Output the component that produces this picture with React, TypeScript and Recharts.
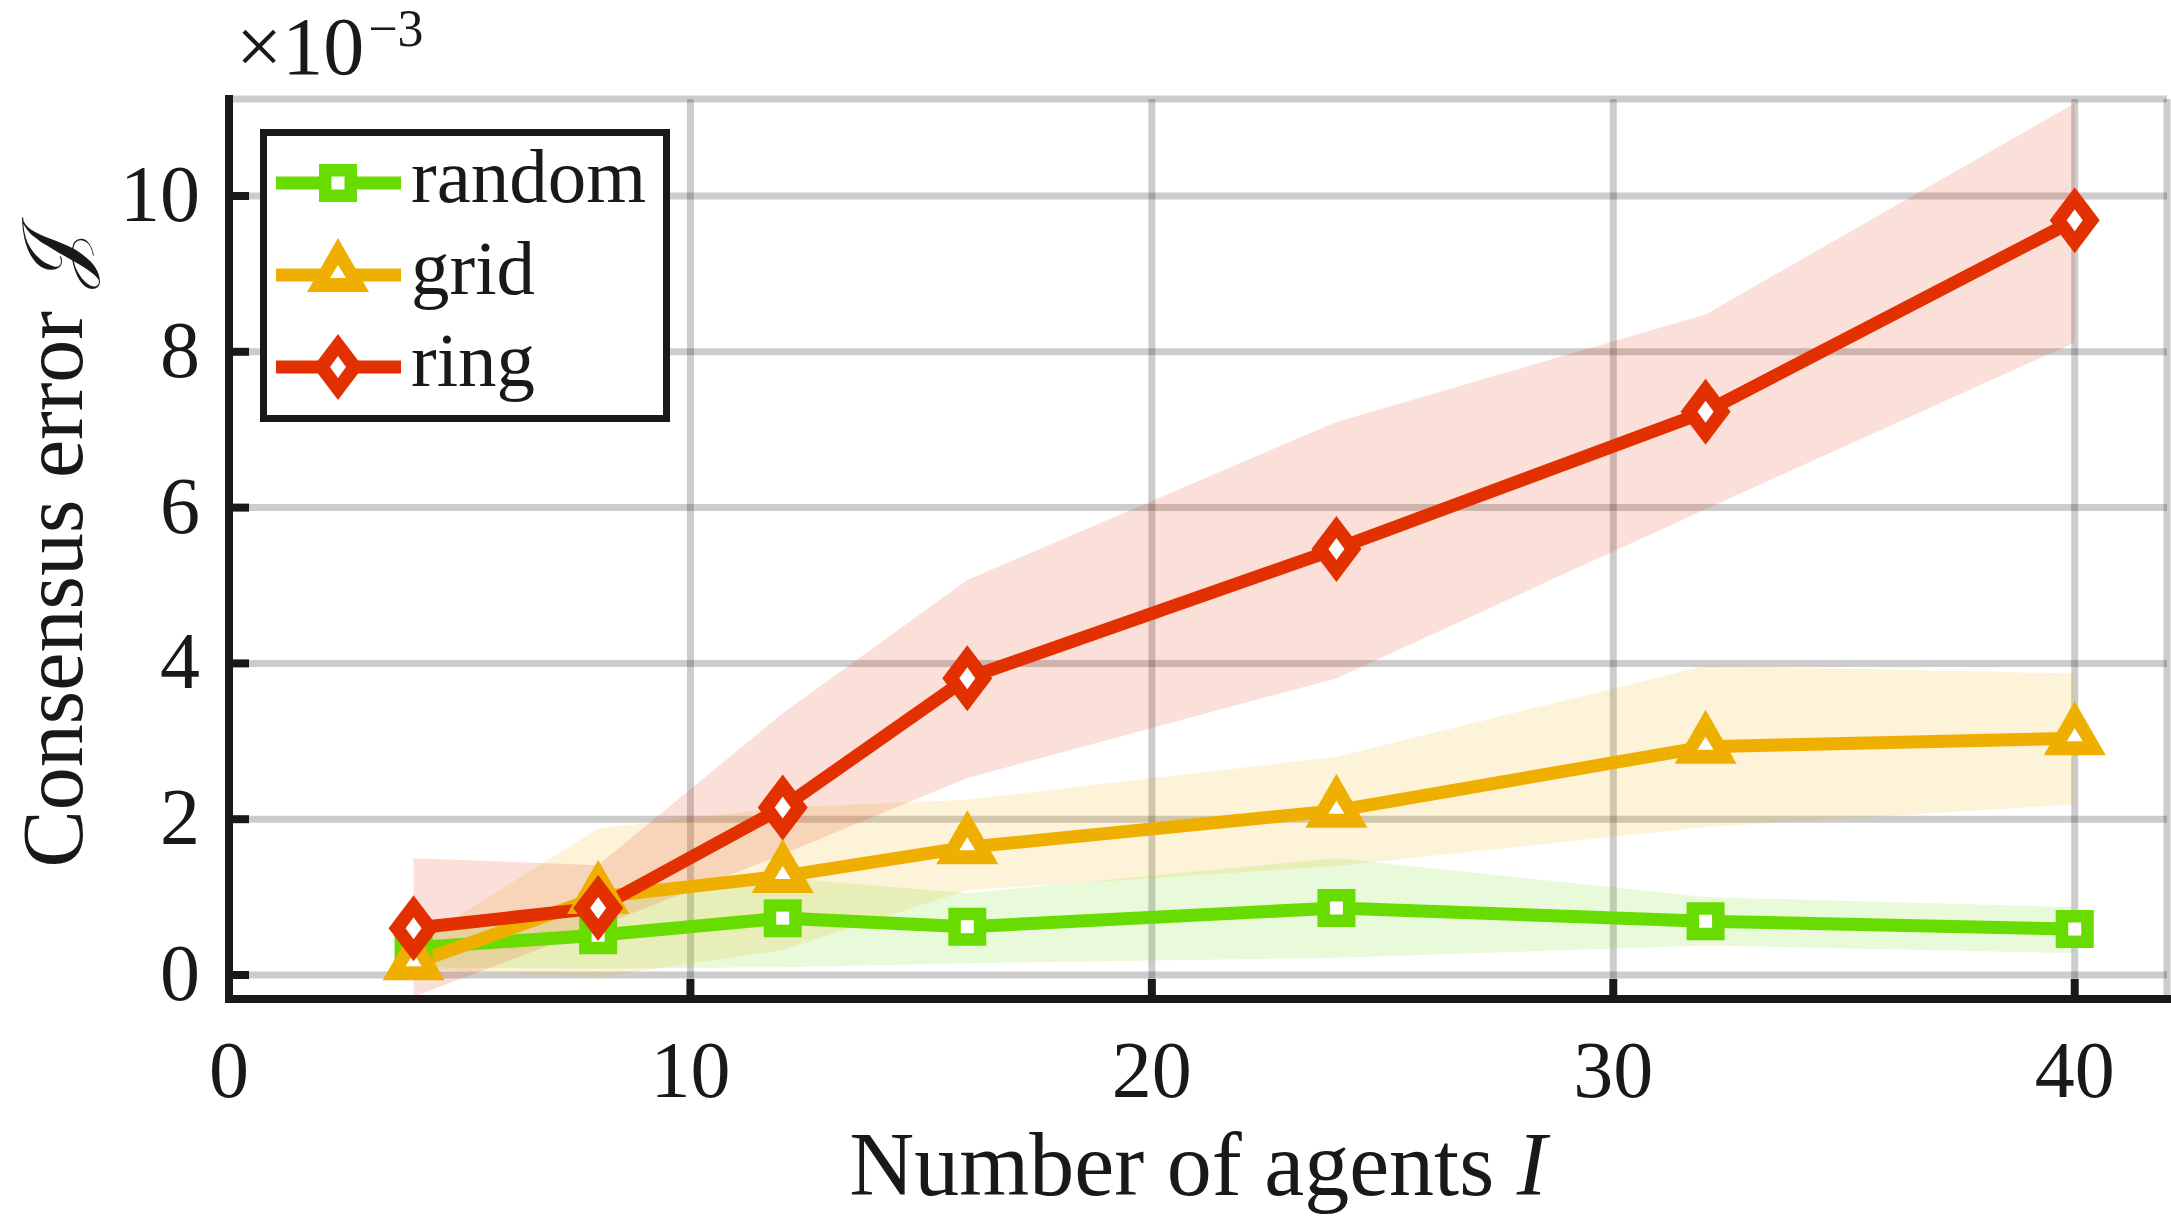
import React from 'react';
import { ComposedChart, Line, Area, XAxis, YAxis, CartesianGrid, Legend } from 'recharts';

// consensus error (x 1e-3) against the number of agents, per topology
const agents = [4, 8, 12, 16, 24, 32, 40];

const randomMean = [0.35, 0.51, 0.73, 0.62, 0.86, 0.69, 0.59];
const randomLow = [0.1, 0.08, 0.1, 0.15, 0.22, 0.38, 0.28];
const randomHigh = [0.55, 0.95, 1.25, 1.05, 1.5, 1.0, 0.87];

const gridMean = [0.15, 1.0, 1.27, 1.64, 2.11, 2.93, 3.04];
const gridLow = [0.08, -0.03, 0.32, 1.09, 1.4, 1.9, 2.19];
const gridHigh = [0.4, 1.88, 2.15, 2.25, 2.8, 3.97, 3.87];

const ringMean = [0.6, 0.86, 2.15, 3.81, 5.47, 7.23, 9.69];
const ringLow = [-0.28, 0.62, 1.55, 2.53, 3.81, 5.98, 8.12];
const ringHigh = [1.5, 1.41, 3.36, 5.07, 7.1, 8.48, 11.19];

const xTicks = [0, 10, 20, 30, 40];
const yTicks = [0, 2, 4, 6, 8, 10];

const FONT = '"Liberation Serif", "DejaVu Serif", serif';
const INK = '#181918';

type Shape = 'square' | 'triangle' | 'diamond';

const series: { key: string; name: string; color: string; shape: Shape }[] = [
  { key: 'random', name: 'random', color: '#68DC00', shape: 'square' },
  { key: 'grid', name: 'grid', color: '#EEAF00', shape: 'triangle' },
  { key: 'ring', name: 'ring', color: '#E33000', shape: 'diamond' },
];

const rows = agents.map((n, i) => ({
  n,
  random: randomMean[i],
  randomBand: [randomLow[i], randomHigh[i]],
  grid: gridMean[i],
  gridBand: [gridLow[i], gridHigh[i]],
  ring: ringMean[i],
  ringBand: [ringLow[i], ringHigh[i]],
}));

const shapes: Record<Shape, { outer: number[][]; inner: number[][] }> = {
  square: {
    outer: [[-19, -19], [19, -19], [19, 19], [-19, 19]],
    inner: [[-6.5, -6.5], [6.5, -6.5], [6.5, 6.5], [-6.5, 6.5]],
  },
  triangle: {
    outer: [[0, -37], [31, 17], [-31, 17]],
    inner: [[0, -10], [8, 3], [-8, 3]],
  },
  diamond: {
    outer: [[0, -33], [25, 0], [0, 33], [-25, 0]],
    inner: [[0, -11], [8, 0], [0, 11], [-8, 0]],
  },
};

const pts = (p: number[][], cx: number, cy: number) => p.map(([x, y]) => `${cx + x},${cy + y}`).join(' ');

const Marker = ({ cx, cy, shape, color }: { cx: number; cy: number; shape: Shape; color: string }) => {
  const s = shapes[shape];
  return (
    <g>
      <polygon points={pts(s.outer, cx, cy)} fill={color} />
      <polygon points={pts(s.inner, cx, cy)} fill="#fff" />
    </g>
  );
};

const TICK = 20;
const tickLine = { stroke: INK, strokeWidth: 8 };

const BottomTick = (p: any) => (
  <g>
    <line x1={p.x} x2={p.x} y1={p.y} y2={p.y - TICK} {...tickLine} />
    <text x={p.x} y={p.y + 98} textAnchor="middle" fontFamily={FONT} fontSize={80} fill={INK}>
      {p.payload.value}
    </text>
  </g>
);

const TopTick = (p: any) => <line x1={p.x} x2={p.x} y1={p.y} y2={p.y + TICK} {...tickLine} />;

const LeftTick = (p: any) => (
  <g>
    <line x1={p.x} x2={p.x + TICK} y1={p.y} y2={p.y} {...tickLine} />
    <text x={p.x - 29} y={p.y + 25} textAnchor="end" fontFamily={FONT} fontSize={80} fill={INK}>
      {p.payload.value}
    </text>
  </g>
);

const RightTick = (p: any) => <line x1={p.x} x2={p.x - TICK} y1={p.y} y2={p.y} {...tickLine} />;

const LegendBox = () => (
  <svg width={410} height={293} style={{ display: 'block' }}>
    <rect x={3.5} y={3.5} width={403} height={286} fill="#fff" stroke={INK} strokeWidth={7} />
    {series.map((s, i) => {
      const cy = 54 + i * 92;
      return (
        <g key={s.key}>
          <line x1={16} x2={141} y1={cy} y2={cy} stroke={s.color} strokeWidth={13} />
          <Marker cx={78} cy={cy} shape={s.shape} color={s.color} />
          <text x={151} y={cy + 19} fontFamily={FONT} fontSize={77} fill={INK}>
            {s.name}
          </text>
        </g>
      );
    })}
  </svg>
);

const frameLine = { stroke: INK, strokeWidth: 8, strokeLinecap: 'square' as const };

export default function App() {
  return (
    <div style={{ position: 'absolute', left: 0, top: 0, width: 2171, height: 1219, background: '#fff' }}>
      <ComposedChart width={2171} height={1219} data={rows} margin={{ top: 99, right: 4, bottom: 0, left: 0 }}>
        <CartesianGrid stroke="rgba(0,0,0,0.2)" strokeWidth={7} />
        <XAxis
          dataKey="n"
          type="number"
          domain={[0, 42]}
          ticks={xTicks}
          interval={0}
          allowDataOverflow
          height={220}
          tickSize={0}
          tickMargin={0}
          tickLine={false}
          axisLine={frameLine}
          tick={<BottomTick />}
          label={{
            content: (p: any) => {
              const vb = p.viewBox || { x: 229, y: 999, width: 1938 };
              return (
                <text x={vb.x + vb.width / 2} y={vb.y + 196} textAnchor="middle" fontFamily={FONT} fontSize={90} fill={INK}>
                  Number of agents <tspan fontStyle="italic">I</tspan>
                </text>
              );
            },
          }}
        />
        <XAxis
          xAxisId="top"
          orientation="top"
          dataKey="n"
          type="number"
          domain={[0, 42]}
          ticks={xTicks}
          interval={0}
          allowDataOverflow
          height={0}
          tickSize={0}
          tickMargin={0}
          tickLine={false}
          axisLine={frameLine}
          tick={<TopTick />}
        />
        <YAxis
          type="number"
          domain={[-0.308, 11.245]}
          ticks={yTicks}
          interval={0}
          allowDataOverflow
          width={229}
          tickSize={0}
          tickMargin={0}
          tickLine={false}
          axisLine={frameLine}
          tick={<LeftTick />}
          label={{
            content: (p: any) => {
              const vb = p.viewBox || { x: 0, y: 99, height: 900 };
              const cx = vb.x + 82;
              const cy = vb.y + vb.height / 2;
              return (
                <text
                  x={cx}
                  y={cy}
                  transform={`rotate(-90 ${cx} ${cy})`}
                  textAnchor="middle"
                  fontFamily={FONT}
                  fontSize={86}
                  fill={INK}
                >
                  Consensus error 𝒥
                </text>
              );
            },
          }}
        />
        <YAxis
          yAxisId="right"
          orientation="right"
          type="number"
          domain={[-0.308, 11.245]}
          ticks={yTicks}
          interval={0}
          allowDataOverflow
          width={0}
          tickSize={0}
          tickMargin={0}
          tickLine={false}
          axisLine={frameLine}
          tick={<RightTick />}
        />
        {series.map((s) => (
          <Area
            key={`${s.key}Band`}
            type="linear"
            dataKey={`${s.key}Band`}
            stroke="none"
            fill={s.color}
            fillOpacity={0.15}
            dot={false}
            activeDot={false}
            isAnimationActive={false}
          />
        ))}
        {series.map((s) => (
          <Line
            key={s.key}
            type="linear"
            dataKey={s.key}
            stroke={s.color}
            strokeWidth={13}
            activeDot={false}
            isAnimationActive={false}
            dot={(p: any) => <Marker key={`${s.key}-${p.index}`} cx={p.cx} cy={p.cy} shape={s.shape} color={s.color} />}
          />
        ))}
        <Legend
          layout="vertical"
          align="center"
          verticalAlign="middle"
          wrapperStyle={{ left: 260, top: 129, width: 410, height: 293 }}
          content={() => <LegendBox />}
        />
      </ComposedChart>
      <svg width={600} height={99} style={{ position: 'absolute', left: 0, top: 0 }}>
        <text x={236} y={74} fontFamily={FONT} fontSize={82} fill={INK}>
          ×10
          <tspan dx={4} dy={-28} fontSize={52}>
            −3
          </tspan>
        </text>
      </svg>
    </div>
  );
}
